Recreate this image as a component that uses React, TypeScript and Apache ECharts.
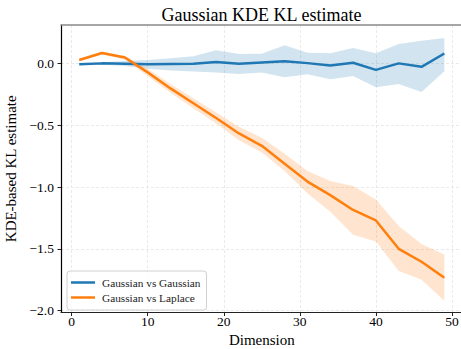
import React, { useEffect, useRef } from "react";
import * as echarts from "echarts";

const dims = [1, 4, 7, 10, 13, 16, 19, 22, 25, 28, 31, 34, 37, 40, 43, 46, 49];

const ggMean = [-0.005, 0.003, 0.0, -0.005, -0.002, 0.0, 0.015, 0.0, 0.01, 0.02, 0.005, -0.015, 0.008, -0.05, 0.003, -0.025, 0.083];
const ggUpper = [0.005, 0.012, 0.022, 0.03, 0.045, 0.06, 0.11, 0.078, 0.08, 0.15, 0.09, 0.086, 0.127, 0.086, 0.16, 0.186, 0.208];
const ggLower = [-0.012, -0.008, -0.018, -0.04, -0.055, -0.062, -0.07, -0.083, -0.07, -0.11, -0.085, -0.125, -0.1, -0.19, -0.165, -0.23, -0.06];

const glMean = [0.03, 0.087, 0.05, -0.07, -0.2, -0.32, -0.44, -0.565, -0.665, -0.81, -0.955, -1.065, -1.185, -1.27, -1.5, -1.605, -1.735];
const glUpper = [0.042, 0.1, 0.065, -0.04, -0.165, -0.28, -0.395, -0.51, -0.6, -0.73, -0.87, -0.95, -0.99, -1.1, -1.315, -1.46, -1.545];
const glLower = [0.018, 0.074, 0.035, -0.1, -0.235, -0.36, -0.485, -0.62, -0.72, -0.87, -1.05, -1.2, -1.385, -1.44, -1.68, -1.75, -1.92];

const xTicks = [0, 10, 20, 30, 40, 50];
const yTicks = [-2.0, -1.5, -1.0, -0.5, 0.0];

const BLUE = "#1f77b4";
const ORANGE = "#ff7f0e";
const FONT = "Liberation Serif";

function pairs(ys: number[]) {
  return dims.map((d, i) => [d, ys[i]]);
}

function isTick(v: number, ticks: number[]) {
  return ticks.some((t) => Math.abs(t - v) < 1e-6);
}

const tickRich = { t: { fontFamily: FONT, fontSize: 13.5, color: "#000" } };

function band(up: number[], lo: number[], color: string) {
  return {
    type: "custom",
    silent: true,
    z: 1,
    data: dims.map((d, i) => [d, lo[i], up[i]]),
    encode: { x: 0, y: [1, 2] },
    renderItem: (params: any, api: any) => {
      if (params.dataIndex !== 0) return null;
      const top = dims.map((d, i) => api.coord([d, up[i]]));
      const bot = dims.map((d, i) => api.coord([d, lo[i]])).reverse();
      return {
        type: "polygon",
        shape: { points: top.concat(bot) },
        style: { fill: color, opacity: 0.2 },
      };
    },
  };
}

export default function App() {
  const ref = useRef<HTMLDivElement>(null);
  useEffect(() => {
    document.body.style.margin = "0";
    const chart = echarts.init(ref.current!, null, { renderer: "svg" });
    chart.setOption({
      animation: false,
      textStyle: { fontFamily: FONT },
      title: {
        text: "Gaussian KDE KL estimate",
        left: 261.5,
        top: 6,
        padding: 0,
        textAlign: "center",
        textStyle: { fontFamily: FONT, fontSize: 18, fontWeight: "normal", color: "#000" },
      },
      grid: {
        left: 61,
        top: 25,
        width: 401.6,
        height: 287.5,
        containLabel: false,
        outerBoundsMode: "none",
      },
      legend: {
        orient: "vertical",
        left: 67,
        top: 271,
        data: [
          { name: "Gaussian vs Gaussian", icon: "rect" },
          { name: "Gaussian vs Laplace", icon: "rect" },
        ],
        itemWidth: 24,
        itemHeight: 2.5,
        itemGap: 4,
        padding: [6, 6, 7, 4],
        borderColor: "#d0d0d0",
        borderWidth: 1,
        borderRadius: 3,
        backgroundColor: "rgba(255,255,255,0.8)",
        textStyle: { fontFamily: FONT, fontSize: 11.3, color: "#222", padding: [0, 0, 0, 2] },
      },
      xAxis: [
        {
          type: "value",
          min: -1.4,
          max: 51.4,
          name: "Dimension",
          nameLocation: "middle",
          nameGap: 20,
          nameTextStyle: { fontFamily: FONT, fontSize: 15, color: "#000" },
          axisLine: { show: true, onZero: false, lineStyle: { color: "#222", width: 1.2 } },
          axisTick: { show: true, length: 3.5, customValues: xTicks, lineStyle: { color: "#222" } },
          axisLabel: {
            showMinLabel: false,
            showMaxLabel: false,
            margin: 1.5,
            fontFamily: FONT,
            fontSize: 13.5,
            color: "#000",
            rich: tickRich,
            formatter: (v: number) => (isTick(v, xTicks) ? "{t|" + String(v) + "}" : ""),
          },
          splitLine: { show: true, lineStyle: { color: "#e4e4e4", type: [3, 2], width: 0.8 } },
        },
        {
          type: "value",
          position: "top",
          min: -1.4,
          max: 51.4,
          axisLine: { show: true, onZero: false, lineStyle: { color: "#8a8a8a", width: 1.5 } },
          axisTick: { show: false },
          axisLabel: { show: false },
          splitLine: { show: false },
        },
      ],
      yAxis: {
        type: "value",
        min: -2.016,
        max: 0.314,
        name: "KDE-based KL estimate",
        nameLocation: "middle",
        nameGap: 38,
        nameTextStyle: { fontFamily: FONT, fontSize: 15, color: "#000" },
        axisLine: { show: true, onZero: false, lineStyle: { color: "#000", width: 1.2 } },
        axisTick: { show: true, length: 3.5, customValues: yTicks, lineStyle: { color: "#222" } },
        axisLabel: {
          showMinLabel: false,
          showMaxLabel: false,
          margin: 7,
          fontFamily: FONT,
          fontSize: 13.5,
          color: "#000",
          rich: tickRich,
          formatter: (v: number) =>
            isTick(v, yTicks) ? "{t|" + v.toFixed(1).replace("-", "\u2212") + "}" : "",
        },
        splitLine: { show: true, lineStyle: { color: "#e4e4e4", type: [3, 2], width: 0.8 } },
      },
      series: [
        band(ggUpper, ggLower, BLUE),
        band(glUpper, glLower, ORANGE),
        {
          type: "line",
          name: "Gaussian vs Gaussian",
          data: pairs(ggMean),
          symbol: "none",
          color: BLUE,
          lineStyle: { color: BLUE, width: 2.5 },
          z: 3,
        },
        {
          type: "line",
          name: "Gaussian vs Laplace",
          data: pairs(glMean),
          symbol: "none",
          color: ORANGE,
          lineStyle: { color: ORANGE, width: 2.5 },
          z: 4,
        },
      ],
    });
    return () => chart.dispose();
  }, []);
  return <div ref={ref} style={{ width: 461, height: 349 }} />;
}
